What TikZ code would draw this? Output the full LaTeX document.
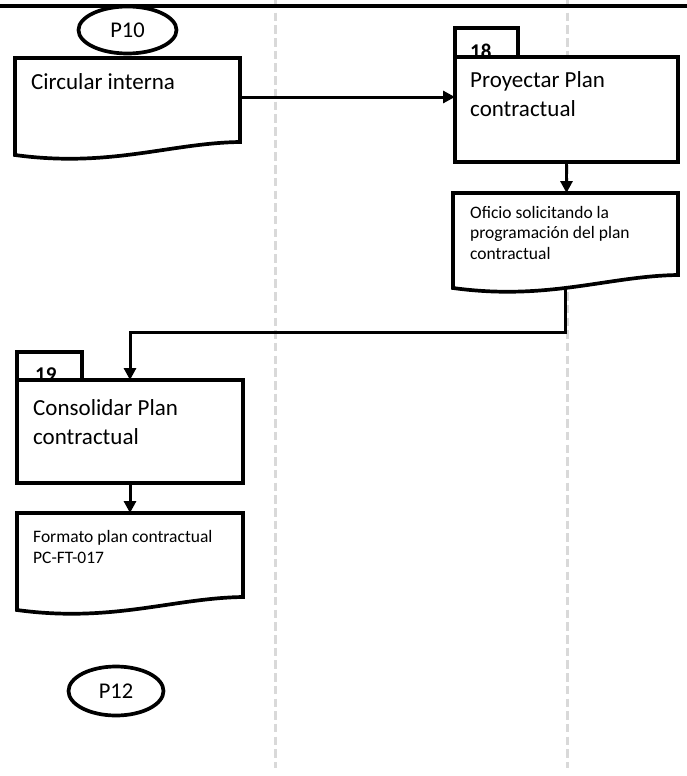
\documentclass[tikz,border=0pt]{standalone}
\usepackage{fontspec}
\setmainfont{Carlito}
\usetikzlibrary{arrows.meta,calc,shapes.geometric}
\definecolor{lanegray}{HTML}{D9D9D9}

% document symbol with a wavy lower edge, drawn around a named area node;
% the coordinate <name>-wave lies on the wavy edge
\newcommand{\drawdocument}[1]{%
  \draw[shapeline, fill=white] (#1.south east) -- (#1.north east) -- (#1.north west)
    -- ($(#1.south west)+(0,13)$) .. controls +(95,13) and +(-70,1) ..
    coordinate[pos=0.53] (#1-wave) (#1.south east) -- cycle;}

% multi-line labels are placed by the baseline of their last line
\tikzset{
  shapeline/.style={line width=3.7pt, line join=miter},
  procbox/.style={rectangle, draw=black, fill=white, shapeline, inner sep=0pt, outer sep=0pt, anchor=north west},
  docarea/.style={rectangle, inner sep=0pt, outer sep=0pt, anchor=north west},
  terminal/.style={ellipse, draw=black, fill=white, shapeline, inner sep=0pt, outer sep=0pt,
    font=\fontsize{22.5}{25}\selectfont},
  flow/.style={line width=3pt, -{Triangle[length=12pt,width=12pt]}},
  lane/.style={draw=lanegray, line width=3pt, dash pattern=on 8.5pt off 4.2pt},
  bigtxt/.style={anchor=base west, inner sep=0pt, align=left, font=\fontsize{23}{28.5}\selectfont},
  smalltxt/.style={anchor=base west, inner sep=0pt, align=left, font=\fontsize{17.5}{20.7}\selectfont},
  numtxt/.style={anchor=base west, inner sep=0pt, font=\bfseries\fontsize{21}{24}\selectfont},
}

\begin{document}
\begin{tikzpicture}[x=1pt, y=-1pt]
\useasboundingbox (0,0) rectangle (687,776);

% swimlane separators and header rule
\draw[lane] (275,0) -- (275,768);
\draw[lane] (567,0) -- (567,768);
\draw[line width=4pt] (0,6) -- (687,6);

% numbered tabs of the activity boxes
\node[procbox, minimum width=63pt, minimum height=34pt] (tab18) at (455,28) {};
\node[numtxt] (n18) at (470,59) {18};
\node[procbox, minimum width=65pt, minimum height=32pt] (tab19) at (17,352) {};
\node[numtxt] (n19) at (35,381) {19};

% activity boxes
\node[procbox, minimum width=223pt, minimum height=105pt] (b18) at (455,57) {};
\node[procbox, minimum width=226pt, minimum height=103pt] (b19) at (17,380) {};

% documents
\node[docarea, minimum width=225pt, minimum height=84pt] (circ) at (15,58) {};
\node[docarea, minimum width=225pt, minimum height=82pt] (ofi) at (453,193) {};
\node[docarea, minimum width=226pt, minimum height=84pt] (fmt) at (17,513) {};
\drawdocument{circ}
\drawdocument{ofi}
\drawdocument{fmt}

% terminators
\node[terminal, minimum width=98pt, minimum height=47pt] (p10) at (127.5,30) {P10};
\node[terminal, minimum width=95pt, minimum height=49pt] (p12) at (116,691) {P12};

% connectors
\draw[flow] ([yshift=3pt]circ.east) -- ([yshift=3pt]circ.east -| b18.west);
\draw[flow] (b18.south) -- (b18.south |- ofi.north);
\draw[flow] (ofi.south |- ofi-wave) -- ++(0,47) -| (b19.north);
\draw[flow] (b19.south) -- (b19.south |- fmt.north);

% labels
\node[bigtxt] (tcirc) at (31,89) {Circular interna};
\node[bigtxt] (t18) at (470,116.5) {Proyectar Plan\\contractual};
\node[smalltxt] (tofi) at (470,259.4) {Oficio solicitando la\\programación del plan\\contractual};
\node[bigtxt] (t19) at (33,444) {Consolidar Plan\\contractual};
\node[smalltxt] (tfmt) at (33,563.5) {Formato plan contractual\\PC-FT-017};
\end{tikzpicture}
\end{document}
